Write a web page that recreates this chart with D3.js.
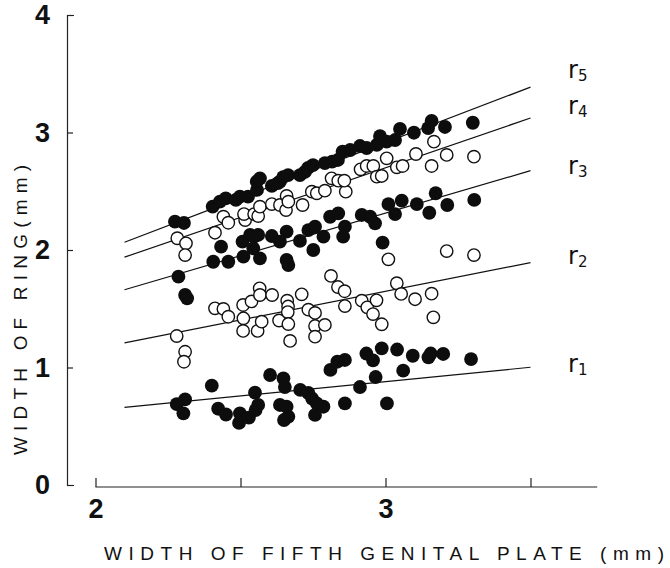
<!DOCTYPE html>
<html>
<head>
<meta charset="utf-8">
<script src="https://cdn.jsdelivr.net/npm/d3@7"></script>
<style>
  html, body { margin: 0; padding: 0; background: #fff; }
  svg { display: block; }
  text { font-family: "Liberation Sans", Arial, sans-serif; fill: #111; }
</style>
</head>
<body>
<svg id="chart" width="670" height="568"></svg>
<script>
// width of fifth genital plate (mm) vs width of ring (mm), one array per ring
var r1 = [[2.280,0.689],[2.309,0.728],[2.303,0.610],[2.401,0.845],[2.423,0.649],[2.450,0.600],
  [2.498,0.609],[2.495,0.528],[2.529,0.574],[2.552,0.638],[2.561,0.681],[2.550,0.786],[2.602,0.936],
  [2.648,0.908],[2.653,0.834],[2.636,0.681],[2.659,0.666],[2.665,0.581],[2.650,0.553],[2.706,0.809],
  [2.734,0.783],[2.747,0.736],[2.763,0.695],[2.786,0.666],[2.757,0.596],[2.860,0.694],[2.810,0.979],
  [2.834,1.049],[2.860,1.064],[2.912,0.834],[2.934,1.119],[2.957,1.060],[2.966,0.919],[2.987,1.163],
  [3.005,0.694],[3.040,1.153],[3.061,0.973],[3.094,1.100],[3.148,1.087],[3.156,1.119],[3.199,1.115],
  [3.295,1.072]];
var r2 = [[2.280,1.268],[2.309,1.134],[2.305,1.049],[2.412,1.504],[2.441,1.498],[2.458,1.432],
  [2.509,1.532],[2.538,1.562],[2.566,1.674],[2.567,1.617],[2.609,1.617],[2.510,1.419],[2.509,1.311],
  [2.559,1.311],[2.573,1.390],[2.633,1.400],[2.661,1.569],[2.664,1.519],[2.663,1.472],[2.665,1.370],
  [2.671,1.226],[2.711,1.623],[2.734,1.492],[2.757,1.464],[2.757,1.353],[2.791,1.362],[2.757,1.262],
  [2.812,1.779],[2.836,1.685],[2.859,1.649],[2.860,1.523],[2.918,1.569],[2.937,1.512],[2.957,1.455],
  [2.969,1.572],[2.987,1.368],[3.010,1.921],[3.039,1.717],[3.054,1.626],[3.102,1.581],[3.159,1.628],
  [3.165,1.427],[3.211,1.991],[3.305,1.957]];
var r3 = [[2.286,1.773],[2.309,1.617],[2.316,1.589],[2.406,1.900],[2.433,2.028],[2.458,1.900],
  [2.507,2.071],[2.510,1.943],[2.533,2.128],[2.547,2.113],[2.561,2.128],[2.544,2.014],[2.567,1.929],
  [2.608,2.119],[2.636,2.071],[2.659,2.156],[2.659,1.915],[2.665,1.872],[2.705,2.077],[2.734,2.170],
  [2.757,2.198],[2.751,2.000],[2.786,2.113],[2.809,2.283],[2.837,2.312],[2.860,2.198],[2.854,2.113],
  [2.918,2.298],[2.947,2.283],[2.964,2.227],[2.990,2.062],[3.010,2.391],[3.033,2.306],[3.056,2.420],
  [3.108,2.391],[3.151,2.317],[3.173,2.483],[3.213,2.383],[3.306,2.426]];
var r4 = [[2.282,2.100],[2.312,2.057],[2.309,1.957],[2.412,2.147],[2.441,2.283],[2.458,2.232],
  [2.516,2.255],[2.512,2.306],[2.547,2.306],[2.561,2.289],[2.567,2.369],[2.608,2.391],[2.636,2.383],
  [2.659,2.460],[2.657,2.340],[2.665,2.411],[2.714,2.383],[2.746,2.496],[2.763,2.483],[2.791,2.505],
  [2.863,2.496],[2.814,2.610],[2.837,2.590],[2.858,2.590],[2.914,2.687],[2.935,2.715],[2.958,2.715],
  [2.970,2.624],[2.987,2.630],[3.004,2.780],[3.039,2.704],[3.059,2.715],[3.105,2.817],[3.159,2.715],
  [3.167,2.922],[3.211,2.809],[3.305,2.794]];
var r5 = [[2.274,2.241],[2.305,2.230],[2.404,2.369],[2.429,2.411],[2.449,2.440],[2.484,2.426],
  [2.498,2.454],[2.526,2.454],[2.556,2.581],[2.567,2.610],[2.557,2.511],[2.608,2.545],[2.636,2.581],
  [2.629,2.570],[2.647,2.621],[2.664,2.638],[2.705,2.638],[2.722,2.664],[2.733,2.698],[2.750,2.723],
  [2.791,2.740],[2.816,2.752],[2.836,2.766],[2.852,2.837],[2.878,2.851],[2.912,2.885],[2.935,2.868],
  [2.970,2.894],[2.981,2.970],[3.004,2.922],[3.033,2.936],[3.050,3.030],[3.098,2.998],[3.147,3.038],
  [3.159,3.098],[3.205,3.047],[3.301,3.083]];

var rings = [r1, r2, r3, r4, r5];
var ringNames = ['1', '2', '3', '4', '5'];
var ringFilled = [true, false, true, false, true];

// regression lines, ring width at x = 2.1 and x = 3.5
var lineX = [2.1, 3.5];
var lineY = [[0.660, 1.002], [1.209, 1.893], [1.662, 2.675], [1.939, 3.123], [2.066, 3.386]];

var xTicks = [2, 2.5, 3, 3.5];
var xTickLabels = ['2', '', '3', ''];
var yTicks = [0, 1, 2, 3, 4];

// layout
var labelX = 568;
var labelTop = [364, 256, 166, 106, 70];
var dotR = 6.9;

var svg = d3.select('#chart');
var x = d3.scaleLinear().domain([2, 3.5]).range([95.5, 530.5]);
var y = d3.scaleLinear().domain([0, 4]).range([485, 15]);

// y axis, ticks point inward
var yAxis = svg.append('g')
    .attr('transform', 'translate(67,0)')
    .call(d3.axisLeft(y).tickValues(yTicks).tickFormat(d3.format('d'))
        .tickSizeInner(-6).tickSizeOuter(-7).tickPadding(17));
yAxis.selectAll('path, line').attr('stroke', '#222').attr('stroke-width', 1.2);
yAxis.selectAll('text')
    .style('font-family', '"Liberation Sans", Arial, sans-serif')
    .style('font-size', '27px').style('font-weight', 'bold').attr('fill', '#111');

// x axis, separate line with ticks pointing up
var xAxis = svg.append('g')
    .attr('transform', 'translate(0,487)')
    .call(d3.axisBottom(x).tickValues(xTicks).tickSizeInner(-9).tickSizeOuter(0).tickPadding(12)
        .tickFormat(function(d, i) { return xTickLabels[i]; }));
xAxis.select('.domain').remove();
xAxis.append('line')
    .attr('x1', x(2)).attr('x2', x(3.73))
    .attr('stroke', '#222').attr('stroke-width', 1.2);
xAxis.selectAll('line').attr('stroke', '#222').attr('stroke-width', 1.2);
xAxis.selectAll('text')
    .style('font-family', '"Liberation Sans", Arial, sans-serif')
    .style('font-size', '27px').style('font-weight', 'bold').attr('fill', '#111');

// axis titles
svg.append('text')
    .attr('x', 104).attr('y', 560)
    .attr('textLength', 560).attr('lengthAdjust', 'spacing')
    .style('font-size', '19px')
    .text('WIDTH  OF FIFTH  GENITAL  PLATE   (mm)');
svg.append('text')
    .attr('transform', 'translate(27,455) rotate(-90)')
    .attr('textLength', 290).attr('lengthAdjust', 'spacing')
    .style('font-size', '19px')
    .text('WIDTH  OF  RING(mm)');

// fitted lines
var line = d3.line().x(function(d) { return x(d[0]); }).y(function(d) { return y(d[1]); });
svg.append('g').selectAll('path')
    .data(lineY)
    .join('path')
    .attr('d', function(v) { return line(lineX.map(function(lx, i) { return [lx, v[i]]; })); })
    .attr('fill', 'none').attr('stroke', '#111').attr('stroke-width', 1.2);

// dots
rings.forEach(function(pts, i) {
    svg.append('g').selectAll('circle')
        .data(pts)
        .join('circle')
        .attr('cx', function(d) { return x(d[0]); })
        .attr('cy', function(d) { return y(d[1]); })
        .attr('r', ringFilled[i] ? dotR : dotR - 0.7)
        .attr('fill', ringFilled[i] ? '#0d0d0d' : '#fff')
        .attr('stroke', '#111')
        .attr('stroke-width', ringFilled[i] ? 0 : 1.4);
});

// ring labels
ringNames.forEach(function(n, i) {
    var t = svg.append('text')
        .attr('x', labelX).attr('y', labelTop[i] + 8)
        .style('font-family', '"DejaVu Sans", sans-serif')
        .style('font-size', '24px');
    t.append('tspan').text('r');
    t.append('tspan').attr('dy', 3).style('font-size', '15px').text(n);
});
</script>
</body>
</html>
